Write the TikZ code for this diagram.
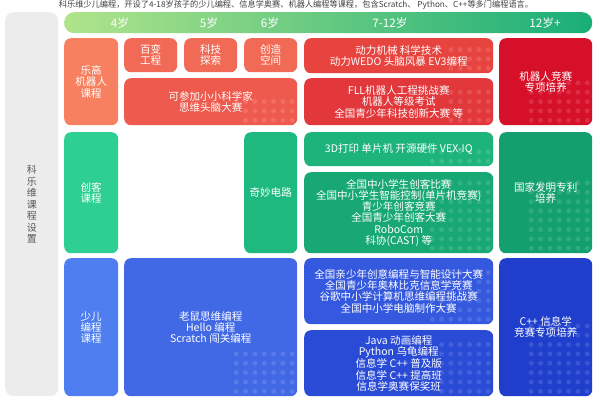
\documentclass[tikz,border=0pt]{standalone}
\usepackage{fontspec}
\setmainfont{Noto Sans CJK SC}
\usepackage{tikz}
\usetikzlibrary{positioning}

\definecolor{panelgray}{HTML}{ECECEC}
\definecolor{hdrL}{HTML}{B0E48A}
\definecolor{hdrM}{HTML}{6DD07A}
\definecolor{hdrR}{HTML}{18AE78}
\definecolor{redA}{HTML}{F6805F}
\definecolor{redB}{HTML}{F06A55}
\definecolor{redC}{HTML}{EE5A4D}
\definecolor{redD}{HTML}{E8443F}
\definecolor{redE}{HTML}{E2383B}
\definecolor{redF}{HTML}{D7102A}
\definecolor{grnA}{HTML}{2ECF92}
\definecolor{grnB}{HTML}{1DB97F}
\definecolor{grnC}{HTML}{1DB47C}
\definecolor{grnD}{HTML}{18A874}
\definecolor{grnE}{HTML}{13A06E}
\definecolor{bluA}{HTML}{4E7EF0}
\definecolor{bluB}{HTML}{4169E6}
\definecolor{bluC}{HTML}{3458DE}
\definecolor{bluD}{HTML}{2A4BD6}
\definecolor{bluE}{HTML}{1E3ECB}

\begin{document}
\begin{tikzpicture}[
    x=0.3mm, y=-0.3mm,
    font=\fontsize{9}{9.6}\selectfont,
    card/.style={anchor=north west, rounded corners=2mm, inner sep=1pt, align=center, text=white},
    boxsize/.style 2 args={minimum width=#1*0.3mm, minimum height=#2*0.3mm},
    dotgrid/.style 2 args={path picture={
        \foreach \i in {1,...,#1} \foreach \j in {1,...,#2}
            \fill [white, opacity=0.12] ([shift={(-\i*2.8mm+1.3mm, \j*2.8mm-1.3mm)}]path picture bounding box.south east) circle (0.75mm);
    }},
    agelabel/.style={text=white, font=\fontsize{10}{12}\selectfont}
]
    \useasboundingbox [fill=white] (0,0) rectangle (600,400);

    % Title line
    \node [font=\fontsize{7}{8}\selectfont, text=black!75] (title) at (296,5) {科乐维少儿编程，开设了4-18岁孩子的少儿编程、信息学奥赛、机器人编程等课程，包含Scratch、 Python、C++等多门编程语言。};

    % Left panel
    \node [card, boxsize={53}{384}, fill=panelgray, rounded corners=2.5mm, text=black!65, font=\fontsize{8.5}{9.8}\selectfont] (panel) at (5,12) {科\\乐\\维\\课\\程\\设\\置};

    % Age bar
    \node [card, boxsize={528}{21}, left color=hdrL, middle color=hdrM, right color=hdrR, rounded corners=3mm] (header) at (64,12) {};
    \foreach \x/\age/\nm in {120/4岁/ageA, 209/5岁/ageB, 270/6岁/ageC, 390/7-12岁/ageD, 545/12岁+/ageE} {
        \node [agelabel] (\nm) at (\x,23) {\age};
    }

    % Row 1: robots
    \node [card, boxsize={54}{87}, fill=redA] (lego) at (64,38) {乐高\\机器人\\课程};
    \node [card, boxsize={53}{34}, fill=redB] (bianhua) at (124,38) {百变\\工程};
    \node [card, boxsize={53}{34}, fill=redB] (keji) at (184,38) {科技\\探索};
    \node [card, boxsize={53}{34}, fill=redB] (chuangzao) at (244,38) {创造\\空间};
    \node [card, boxsize={173}{47}, fill=redC, dotgrid={6}{3}] (kexuejia) at (124,78) {可参加小小科学家\\思维头脑大赛};
    \node [card, boxsize={189}{35}, fill=redD, dotgrid={5}{3}] (dongli) at (304,38) {动力机械 科学技术\\动力WEDO 头脑风暴 EV3编程};
    \node [card, boxsize={189}{47}, fill=redE, dotgrid={5}{4}] (fll) at (304,78) {FLL机器人工程挑战赛\\机器人等级考试\\全国青少年科技创新大赛 等};
    \node [card, boxsize={93}{87}, fill=redF, dotgrid={7}{5}] (robotcup) at (499,38) {机器人竞赛\\专项培养};

    % Row 2: maker
    \node [card, boxsize={54}{121}, fill=grnA] (maker) at (64,132) {创客\\课程};
    \node [card, boxsize={53}{121}, fill=grnB] (circuit) at (244,132) {奇妙电路};
    \node [card, boxsize={189}{34}, fill=grnC, dotgrid={7}{2}] (print3d) at (304,132) {3D打印 单片机 开源硬件 VEX-IQ};
    \node [card, boxsize={189}{81}, fill=grnD, dotgrid={7}{8}] (makercup) at (304,172) {全国中小学生创客比赛\\全国中小学生智能控制(单片机竞赛)\\青少年创客竞赛\\全国青少年创客大赛\\RoboCom\\科协(CAST) 等};
    \node [card, boxsize={93}{121}, fill=grnE, dotgrid={7}{8}] (patent) at (499,132) {国家发明专利\\培养};

    % Row 3: coding
    \node [card, boxsize={54}{138}, fill=bluA] (coding) at (64,258) {少儿\\编程\\课程};
    \node [card, boxsize={173}{138}, fill=bluB, dotgrid={7}{5}] (scratch) at (124,258) {老鼠思维编程\\Hello 编程\\Scratch 闯关编程};
    \node [card, boxsize={189}{66}, fill=bluC, dotgrid={7}{6}] (codecup) at (304,258) {全国亲少年创意编程与智能设计大赛\\全国青少年奥林比克信息学竞赛\\谷歌中小学计算机思维编程挑战赛\\全国中小学电脑制作大赛};
    \node [card, boxsize={189}{66}, fill=bluD, dotgrid={6}{6}] (java) at (304,330) {Java 动画编程\\Python 乌龟编程\\信息学 C++ 普及版\\信息学 C++ 提高班\\信息学奥赛保奖班};
    \node [card, boxsize={93}{138}, fill=bluE, dotgrid={7}{8}] (cpp) at (499,258) {C++ 信息学\\竞赛专项培养};
\end{tikzpicture}
\end{document}
